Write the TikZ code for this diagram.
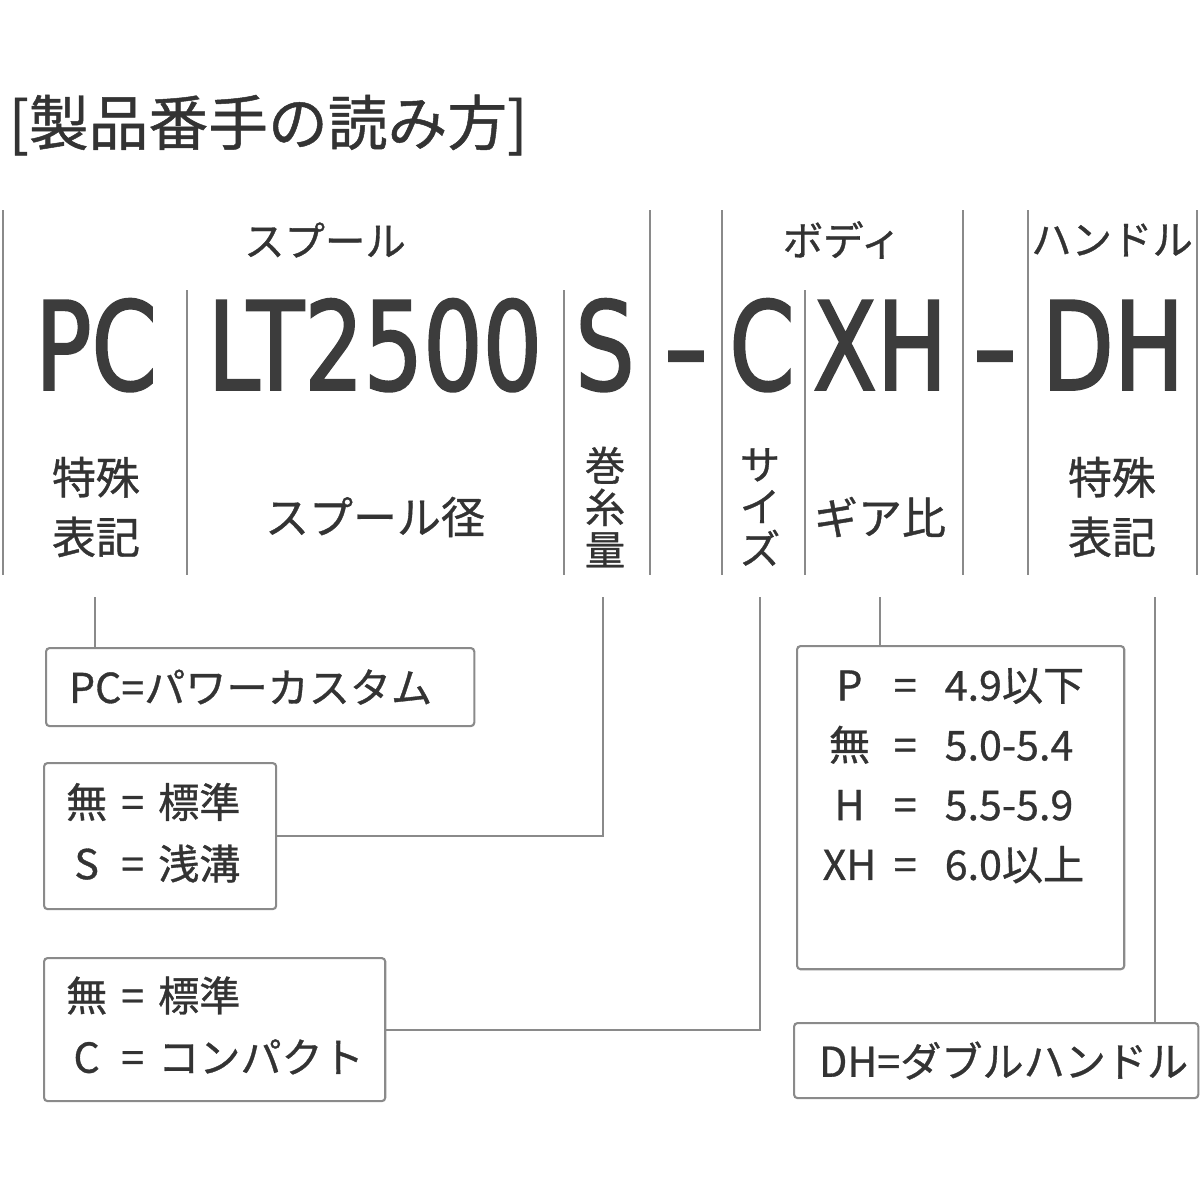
\documentclass[tikz,border=0pt]{standalone}
\usepackage{fontspec}
\setmainfont[FakeBold=0.8]{Noto Sans CJK JP}
\newfontfamily\codefont[FakeStretch=0.76, FakeBold=1.6]{DejaVu Sans}
\usetikzlibrary{positioning}
\definecolor{ink}{HTML}{333333}
\definecolor{codeink}{HTML}{3C3C3C}
\definecolor{rule}{HTML}{8A8A8A}

\begin{document}
\begin{tikzpicture}[
  x=0.01cm, y=-0.01cm,
  divider/.style={draw=rule, line width=0.6pt},
  link/.style={draw=rule, line width=0.6pt},
  title/.style={text=ink, inner sep=0pt, font=\fontsize{17}{20}\selectfont},
  code/.style={anchor=base, inner sep=0pt, text=codeink, font=\codefont\fontsize{35}{40}\selectfont},
  head/.style={text=ink, inner sep=0pt, font=\fontsize{11.5}{14}\selectfont},
  lbl/.style={text=ink, inner sep=0pt, align=center, font=\fontsize{12.5}{17}\selectfont},
  vlbl/.style={text=ink, inner sep=0pt, align=center, font=\fontsize{11.5}{12}\selectfont},
  infobox/.style={draw=rule, line width=0.6pt, rounded corners=1pt, anchor=north west,
    text=ink, inner ysep=0pt, align=left, font=\fontsize{11.7}{17.5}\selectfont}
]
\useasboundingbox (0,0) rectangle (1200,1200);

% title
\node[title, anchor=west] (ttl) at (8,125) {[製品番手の読み方]};

% column dividers
\foreach \x in {3,650,722,963,1028,1197}
  \draw[divider] (\x,210) -- (\x,575);
\foreach \x in {187,564,805}
  \draw[divider] (\x,290) -- (\x,575);

% group headings
\node[head] (hSpool) at (325,240) {スプール};
\node[head] (hBody) at (842,240) {ボディ};
\node[head] (hHandle) at (1112,240) {ハンドル};

% product code
\node[code] (pc) at (96,390) {PC};
\node[code] (lt) at (375,390) {LT2500};
\node[code] (s) at (605,390) {S};
\node[code] (dash1) at (686,390) {\scalebox{1.35}[1]{-}};
\node[code] (c) at (762,390) {C};
\node[code] (xh) at (880,390) {XH};
\node[code] (dash2) at (995,390) {\scalebox{1.35}[1]{-}};
\node[code] (dh) at (1113,390) {DH};

% meanings
\node[lbl] (pcLbl) at (96,507) {特殊\\表記};
\node[lbl] (ltLbl) at (375,517) {スプール径};
\node[vlbl] (sLbl) at (605,507) {巻\\糸\\量};
\node[vlbl] (cLbl) at (760,507) {サ\\イ\\ズ};
\node[lbl] (xhLbl) at (880,517) {ギア比};
\node[lbl] (dhLbl) at (1112,507) {特殊\\表記};

% explanation boxes
\node[infobox, inner xsep=0.23cm, text width=3.82cm, minimum height=0.78cm] (pcBox) at (45,647)
  {PC=パワーカスタム};
\node[infobox, inner xsep=0.22cm, text width=1.88cm, minimum height=1.46cm] (sBox) at (43,762)
  {\begin{tabular}{@{}c@{\hspace{4pt}=\hspace{4pt}}l@{}}無 & 標準\\ S & 浅溝\end{tabular}};
\node[infobox, inner xsep=0.22cm, text width=2.97cm, minimum height=1.43cm] (cBox) at (43,957)
  {\begin{tabular}{@{}c@{\hspace{4pt}=\hspace{4pt}}l@{}}無 & 標準\\ C & コンパクト\end{tabular}};
\node[infobox, inner sep=0pt, minimum width=3.27cm, minimum height=3.23cm] (gearBox) at (796,645) {};
\node[text=ink, anchor=north west, inner sep=0pt, font=\fontsize{11.7}{17}\selectfont,
  below right=0.13cm and 0.26cm of gearBox.north west] (gearTxt)
  {\begin{tabular}{@{}c@{\hspace{5pt}=\hspace{8pt}}l@{}}P & 4.9以下\\ 無 & 5.0-5.4\\ H & 5.5-5.9\\ XH & 6.0以上\end{tabular}};
\node[infobox, inner xsep=0.25cm, text width=3.54cm, minimum height=0.75cm] (dhBox) at (793,1022)
  {DH=ダブルハンドル};

% connectors
\coordinate (pcTail) at (95,597);
\coordinate (sTail) at (603,597);
\coordinate (cTail) at (760,597);
\coordinate (xhTail) at (880,597);
\coordinate (dhTail) at (1155,597);
\draw[link] (pcTail) -- (pcTail |- pcBox.north);
\draw[link] (sTail) |- (sBox.east);
\draw[link] (cTail) |- (cBox.east);
\draw[link] (xhTail) -- (xhTail |- gearBox.north);
\draw[link] (dhTail) -- (dhTail |- dhBox.north);
\end{tikzpicture}
\end{document}
